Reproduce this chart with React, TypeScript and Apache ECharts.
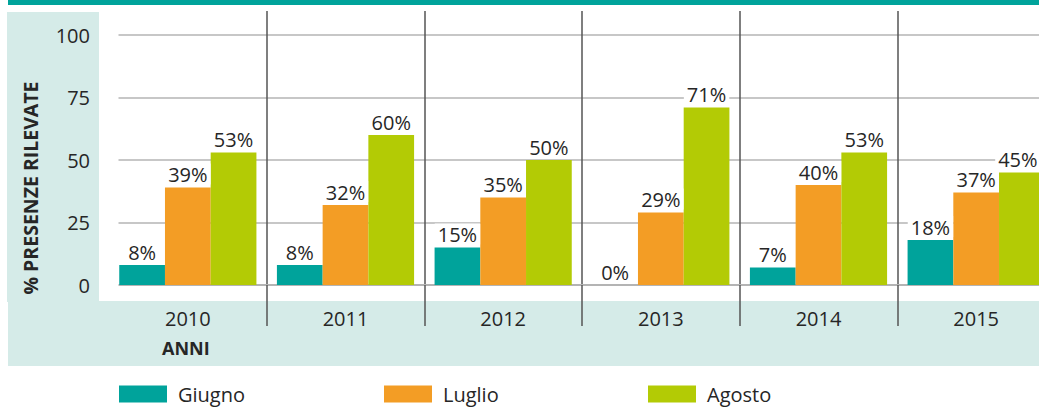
import React, { useEffect, useRef } from "react";
import * as echarts from "echarts";

const years = ["2010", "2011", "2012", "2013", "2014", "2015"];
const giugno = [8, 8, 15, 0, 7, 18];
const luglio = [39, 32, 35, 29, 40, 37];
const agosto = [53, 60, 50, 71, 53, 45];
const seriesNames = ["Giugno", "Luglio", "Agosto"];
const colors = ["#00A39B", "#F39D25", "#B3CB05"];
const yTicks = { min: 0, max: 100, interval: 25 };

const FONT = "'Open Sans', 'Noto Sans', sans-serif";
const TEXT = "#262626";
const PANEL = "#D5EBE8";
const GRID_GRAY = "#B4B4B4";
const SEP = "#555555";

export default function App() {
  const ref = useRef<HTMLDivElement>(null);
  useEffect(() => {
    if (!ref.current) return;
    const chart = echarts.init(ref.current, null, { renderer: "svg" });
    const sepInterval = (i: number) => i > 0;
    const lastIdx = years.length - 1;
    const mkSeries = (name: string, data: number[], color: string, shiftLast: boolean) => ({
      name,
      type: "bar",
      data: data.map((v, i) =>
        shiftLast && i === lastIdx ? { value: v, label: { offset: [-4, 0] } } : v
      ),
      barGap: "0%",
      barCategoryGap: "13%",
      itemStyle: { color },
      label: {
        show: true,
        position: "top",
        distance: 3,
        formatter: "{c}%",
        color: TEXT,
        fontFamily: FONT,
        fontSize: 20,
        backgroundColor: "#ffffff",
        padding: [1, 3, 0, 3],
      },
    });
    const legendBase = {
      top: 384,
      padding: 0,
      itemWidth: 48,
      itemHeight: 17,
      icon: "rect",
      textStyle: { color: TEXT, fontFamily: FONT, fontSize: 20, padding: [0, 0, 0, 6] },
    };
    chart.setOption({
      animation: false,
      textStyle: { fontFamily: FONT },
      grid: {
        left: 109,
        top: 35,
        width: 946,
        bottom: 122,
        containLabel: false,
        outerBoundsMode: "none",
      },
      legend: [
        { ...legendBase, data: [seriesNames[0]], left: 119 },
        { ...legendBase, data: [seriesNames[1]], left: 384 },
        { ...legendBase, data: [seriesNames[2]], left: 648 },
      ],
      xAxis: [
        {
          type: "category",
          data: years,
          position: "bottom",
          boundaryGap: true,
          axisLine: { show: true, lineStyle: { color: GRID_GRAY, width: 2 } },
          axisTick: {
            show: true,
            length: 41,
            interval: sepInterval,
            lineStyle: { color: SEP, width: 1.5 },
          },
          splitLine: {
            show: true,
            interval: sepInterval,
            lineStyle: { color: SEP, width: 1.5 },
          },
          axisLabel: { color: TEXT, fontFamily: FONT, fontSize: 20, margin: 23 },
        },
        {
          type: "category",
          data: years,
          position: "top",
          boundaryGap: true,
          axisLine: { show: false },
          axisTick: {
            show: true,
            length: 24,
            interval: sepInterval,
            lineStyle: { color: SEP, width: 1.5 },
          },
          splitLine: { show: false },
          axisLabel: { show: false },
        },
      ],
      yAxis: {
        type: "value",
        min: yTicks.min,
        max: yTicks.max,
        interval: yTicks.interval,
        axisLine: { show: false },
        axisTick: { show: false },
        axisLabel: { color: TEXT, fontFamily: FONT, fontSize: 20, margin: 19 },
        splitLine: { show: true, lineStyle: { color: GRID_GRAY, width: 1.5 } },
      },
      graphic: [
        { type: "rect", z: -10, shape: { x: 8, y: 0, width: 1031, height: 5 }, style: { fill: "#00A39B" } },
        { type: "rect", z: -10, shape: { x: 7, y: 12, width: 92, height: 290 }, style: { fill: PANEL } },
        { type: "rect", z: -10, shape: { x: 8, y: 301, width: 1031, height: 65 }, style: { fill: PANEL } },
        { type: "rect", z: 1, shape: { x: 100, y: 25, width: 18.5, height: 270 }, style: { fill: "#ffffff" } },
        {
          type: "text",
          x: 30,
          y: 188,
          rotation: Math.PI / 2,
          style: {
            text: "% PRESENZE RILEVATE",
            fill: TEXT,
            font: `bold 19.5px ${FONT}`,
            align: "center",
            verticalAlign: "middle",
          },
        },
        {
          type: "text",
          x: 162,
          y: 348,
          style: {
            text: "ANNI",
            fill: TEXT,
            font: `bold 18px ${FONT}`,
            align: "left",
            verticalAlign: "middle",
          },
        },
      ],
      series: [
        mkSeries(seriesNames[0], giugno, colors[0], false),
        mkSeries(seriesNames[1], luglio, colors[1], false),
        mkSeries(seriesNames[2], agosto, colors[2], true),
      ],
    });
    return () => chart.dispose();
  }, []);
  return (
    <div
      ref={ref}
      style={{ position: "fixed", left: 0, top: 0, width: 1039, height: 407, background: "#ffffff" }}
    />
  );
}
